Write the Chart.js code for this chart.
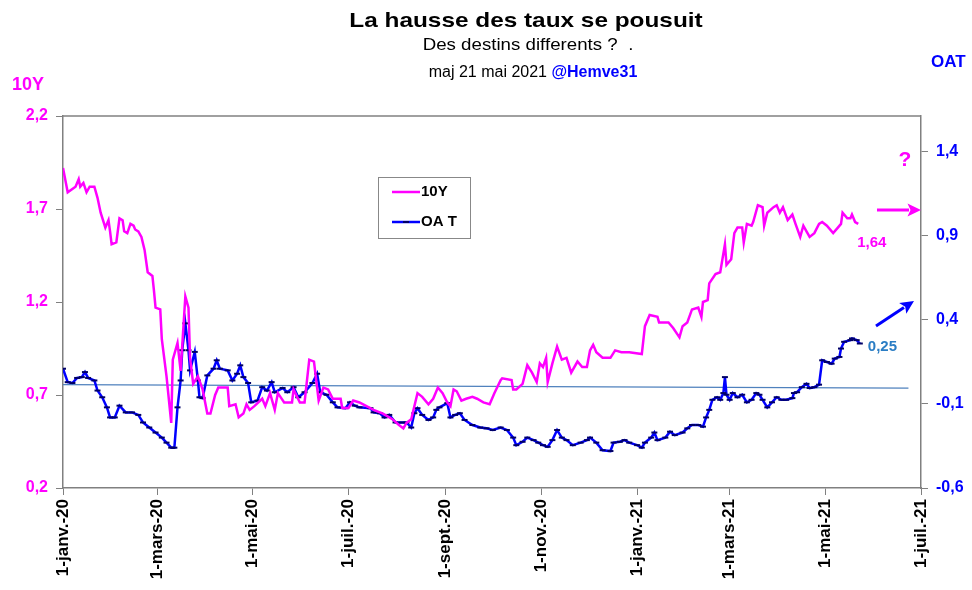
<!DOCTYPE html>
<html lang="fr">
<head>
<meta charset="utf-8">
<title>La hausse des taux se pousuit</title>
<script src="https://cdn.jsdelivr.net/npm/chart.js@4.4.0/dist/chart.umd.min.js"></script>
<style>
    html, body { margin: 0; padding: 0; background: #fff; }
    #wrap { position: relative; width: 972px; height: 590px; }
</style>
</head>
<body>
<div id="wrap"><canvas id="chart" width="972" height="590"></canvas></div>
<script>
/* ==========================
   DONNÉES (jours depuis le 1-janv.-20)
========================== */
const tenYDays = [
    0, 3, 8, 10, 11, 13, 15, 17, 20, 22,
    24, 27, 29, 30, 31, 34, 36, 38, 39, 41,
    43, 45, 46, 48, 50, 52, 54, 57, 58, 59,
    62, 63, 66, 69, 70, 73, 75, 78, 80, 81,
    83, 86, 89, 92, 94, 97, 99, 105, 106, 110,
    112, 115, 117, 119, 122, 127, 129, 132, 135, 137,
    141, 146, 147, 151, 154, 157, 160, 163, 166, 169,
    172, 177, 178, 182, 185, 189, 198, 204, 210, 214,
    217, 219, 222, 226, 229, 233, 236, 239, 242, 245,
    247, 249, 251, 254, 257, 261, 264, 268, 272, 275,
    279, 280, 286, 287, 289, 293, 296, 299, 302, 304,
    306, 308, 309, 312, 315, 318, 321, 324, 328, 331,
    334, 336, 338, 340, 344, 349, 352, 356, 361, 369,
    371, 374, 379, 380, 386, 389, 393, 395, 398, 401,
    405, 407, 408, 411, 412, 416, 419, 420, 422, 423,
    426, 428, 430, 433, 434, 436, 439, 440, 443, 446,
    447, 449, 453, 455, 457, 459, 462, 465, 467, 470,
    472, 474, 476, 479, 482, 484, 487, 491, 494, 496,
    497, 500, 502, 503, 505, 507
];
const tenYVals = [
    1.92, 1.79, 1.82, 1.86, 1.82, 1.84, 1.79, 1.82, 1.82, 1.76,
    1.68, 1.60, 1.64, 1.58, 1.51, 1.52, 1.65, 1.64, 1.58, 1.57,
    1.62, 1.61, 1.59, 1.58, 1.55, 1.48, 1.36, 1.34, 1.26, 1.17,
    1.16, 1.00, 0.80, 0.55, 0.89, 0.98, 0.83, 1.23, 1.17, 0.90,
    0.76, 0.80, 0.73, 0.60, 0.60, 0.70, 0.74, 0.74, 0.64, 0.65,
    0.58, 0.60, 0.65, 0.62, 0.64, 0.68, 0.64, 0.71, 0.62, 0.71,
    0.66, 0.66, 0.73, 0.66, 0.66, 0.89, 0.88, 0.67, 0.74, 0.73,
    0.68, 0.68, 0.63, 0.63, 0.67, 0.66, 0.62, 0.60, 0.57, 0.54,
    0.52, 0.55, 0.57, 0.71, 0.69, 0.65, 0.68, 0.74, 0.71, 0.66,
    0.64, 0.73, 0.72, 0.67, 0.68, 0.69, 0.68, 0.66, 0.65, 0.71,
    0.78, 0.79, 0.78, 0.73, 0.73, 0.76, 0.86, 0.82, 0.77, 0.87,
    0.85, 0.90, 0.77, 0.87, 0.96, 0.89, 0.90, 0.82, 0.88, 0.85,
    0.85, 0.94, 0.97, 0.93, 0.90, 0.90, 0.94, 0.93, 0.93, 0.92,
    1.07, 1.13, 1.12, 1.09, 1.09, 1.06, 1.01, 1.07, 1.09, 1.16,
    1.17, 1.12, 1.20, 1.21, 1.30, 1.35, 1.36, 1.41, 1.51, 1.40,
    1.43, 1.57, 1.60, 1.60, 1.52, 1.62, 1.61, 1.63, 1.72, 1.71,
    1.61, 1.68, 1.71, 1.72, 1.68, 1.71, 1.64, 1.67, 1.62, 1.55,
    1.61, 1.58, 1.55, 1.57, 1.62, 1.63, 1.61, 1.57, 1.60, 1.62,
    1.68, 1.65, 1.65, 1.67, 1.63, 1.62
];

const oatDays = [
    0, 3, 6, 9, 12, 14, 16, 20, 22, 25,
    28, 30, 33, 36, 40, 44, 48, 51, 55, 59,
    63, 66, 69, 71, 73, 75, 76, 78, 80, 81,
    84, 86, 87, 89, 92, 96, 98, 100, 105, 108,
    111, 113, 115, 118, 120, 124, 127, 130, 133, 135,
    140, 143, 147, 150, 154, 159, 162, 164, 168, 172,
    175, 180, 183, 186, 189, 196, 198, 202, 205, 208,
    212, 216, 219, 222, 224, 226, 229, 233, 236, 238,
    240, 245, 247, 250, 253, 256, 261, 266, 270, 274,
    279, 283, 287, 289, 293, 296, 300, 303, 306, 309,
    312, 315, 318, 321, 325, 330, 334, 336, 340, 344,
    349, 351, 355, 358, 361, 366, 369, 371, 375, 377,
    379, 384, 387, 390, 395, 398, 401, 405, 408, 410,
    412, 414, 417, 419, 421, 422, 423, 425, 427, 430,
    433, 436, 439, 442, 444, 446, 449, 452, 455, 458,
    461, 465, 466, 468, 471, 474, 476, 479, 482, 484,
    487, 490, 492, 495, 496, 498, 502, 503, 506, 508
];
const oatVals = [
    0.11, 0.03, 0.025, 0.055, 0.06, 0.09, 0.055, 0.04, -0.02, -0.06,
    -0.12, -0.18, -0.18, -0.11, -0.15, -0.15, -0.165, -0.21, -0.24, -0.27,
    -0.30, -0.33, -0.36, -0.36, -0.12, 0.04, 0.22, 0.38, 0.22, 0.10,
    0.21, 0.04, -0.06, -0.065, 0.07, 0.11, 0.16, 0.11, 0.10, 0.04,
    0.08, 0.13, 0.06, 0.025, -0.09, -0.08, 0.00, -0.02, 0.03, -0.03,
    -0.005, -0.03, 0.00, -0.06, -0.03, 0.025, 0.08, -0.03, -0.045, -0.09,
    -0.12, -0.125, -0.09, -0.11, -0.12, -0.125, -0.15, -0.155, -0.18, -0.165,
    -0.21, -0.21, -0.21, -0.24, -0.155, -0.125, -0.165, -0.195, -0.18, -0.135,
    -0.12, -0.095, -0.18, -0.165, -0.155, -0.195, -0.225, -0.24, -0.245, -0.255,
    -0.24, -0.255, -0.30, -0.345, -0.325, -0.30, -0.315, -0.33, -0.345, -0.355,
    -0.315, -0.255, -0.30, -0.315, -0.345, -0.33, -0.315, -0.30, -0.33, -0.375,
    -0.38, -0.33, -0.325, -0.315, -0.33, -0.345, -0.36, -0.33, -0.30, -0.27,
    -0.315, -0.30, -0.265, -0.285, -0.27, -0.245, -0.225, -0.225, -0.235, -0.18,
    -0.135, -0.075, -0.06, -0.075, -0.035, 0.06, -0.045, -0.075, -0.035, -0.06,
    -0.045, -0.09, -0.075, -0.035, -0.045, -0.075, -0.12, -0.09, -0.06, -0.075,
    -0.075, -0.065, -0.035, -0.03, 0.00, 0.02, -0.005, 0.00, 0.015, 0.16,
    0.15, 0.14, 0.17, 0.18, 0.23, 0.27, 0.28, 0.29, 0.28, 0.26
];

// droite de référence (axe OAT)
const refLineDays = [0, 539];
const refLineVals = [0.015, -0.005];

const monthTickDays = [0, 60, 121, 182, 244, 305, 366, 425, 486, 547];
const monthTickLabels = ["1-janv.-20", "1-mars-20", "1-mai-20", "1-juil.-20", "1-sept.-20",
    "1-nov.-20", "1-janv.-21", "1-mars-21", "1-mai-21", "1-juil.-21"];
const leftTicks = [0.2, 0.7, 1.2, 1.7, 2.2];
const rightTicks = [-0.6, -0.1, 0.4, 0.9, 1.4];

const lastTenYLabel = "1,64";
const lastOatLabel = "0,25";

/* ==========================
   STYLES
========================== */
const FONT = "'Liberation Sans', Arial, sans-serif";
const MAGENTA = "#ff00ff";
const BLUE = "#0000ff";
const AXIS_GRAY = "#808080";

Chart.defaults.font.family = FONT;

function pts(days, vals) {
    return days.map((d, i) => ({ x: d, y: vals[i] }));
}

function fr(v) {
    return v.toFixed(1).replace(".", ",");
}

// texte centré, étiré horizontalement (police du titre plus large)
function stretchedText(ctx, text, cx, baseline, font, stretch, color) {
    ctx.save();
    ctx.font = font;
    ctx.fillStyle = color;
    ctx.textAlign = "center";
    ctx.textBaseline = "alphabetic";
    ctx.translate(cx, baseline);
    ctx.scale(stretch, 1);
    ctx.fillText(text, 0, 0);
    ctx.restore();
}

function arrow(ctx, x1, y1, x2, y2, color, head) {
    const a = Math.atan2(y2 - y1, x2 - x1);
    ctx.save();
    ctx.strokeStyle = color;
    ctx.fillStyle = color;
    ctx.lineWidth = 3;
    ctx.beginPath();
    ctx.moveTo(x1, y1);
    ctx.lineTo(x2 - Math.cos(a) * head * 0.8, y2 - Math.sin(a) * head * 0.8);
    ctx.stroke();
    ctx.beginPath();
    ctx.moveTo(x2, y2);
    ctx.lineTo(x2 - head * Math.cos(a - 0.45), y2 - head * Math.sin(a - 0.45));
    ctx.lineTo(x2 - head * 0.7 * Math.cos(a), y2 - head * 0.7 * Math.sin(a));
    ctx.lineTo(x2 - head * Math.cos(a + 0.45), y2 - head * Math.sin(a + 0.45));
    ctx.closePath();
    ctx.fill();
    ctx.restore();
}

/* ==========================
   DÉCOR : titres, légende, flèches
========================== */
const decorPlugin = {
    id: "decor",
    afterDraw(chart) {
        const ctx = chart.ctx;
        const area = chart.chartArea;
        const sx = chart.scales.x, sy = chart.scales.y, sy1 = chart.scales.y1;

        ctx.save();
        // bord supérieur
        ctx.strokeStyle = AXIS_GRAY;
        ctx.lineWidth = 1.5;
        ctx.beginPath();
        ctx.moveTo(area.left, area.top);
        ctx.lineTo(area.right, area.top);
        ctx.stroke();

        // titres
        stretchedText(ctx, "La hausse des taux se pousuit", 526, 27, "bold 21px " + FONT, 1.16, "#000");
        stretchedText(ctx, "Des destins differents ?  .", 528, 50, "17px " + FONT, 1.1, "#000");

        ctx.textAlign = "left";
        ctx.textBaseline = "alphabetic";
        ctx.font = "16px " + FONT;
        const part1 = "maj 21 mai 2021 ";
        const w1 = ctx.measureText(part1).width;
        ctx.font = "bold 16px " + FONT;
        const w2 = ctx.measureText("@Hemve31").width;
        const x0 = 533 - (w1 + w2) / 2;
        ctx.font = "16px " + FONT;
        ctx.fillStyle = "#000";
        ctx.fillText(part1, x0, 77);
        ctx.font = "bold 16px " + FONT;
        ctx.fillStyle = BLUE;
        ctx.fillText("@Hemve31", x0 + w1, 77);

        // titres des axes
        ctx.textBaseline = "middle";
        ctx.font = "bold 18px " + FONT;
        ctx.fillStyle = MAGENTA;
        ctx.fillText("10Y", 12, 85);
        ctx.font = "bold 17px " + FONT;
        ctx.fillStyle = BLUE;
        ctx.fillText("OAT", 931, 62);

        // légende
        ctx.fillStyle = "#fff";
        ctx.fillRect(378, 177, 92, 61);
        ctx.strokeStyle = "#888";
        ctx.lineWidth = 1;
        ctx.strokeRect(378.5, 177.5, 92, 61);
        ctx.lineWidth = 2.5;
        ctx.strokeStyle = MAGENTA;
        ctx.beginPath(); ctx.moveTo(392, 192); ctx.lineTo(420, 192); ctx.stroke();
        ctx.strokeStyle = BLUE;
        ctx.beginPath(); ctx.moveTo(392, 222); ctx.lineTo(420, 222); ctx.stroke();
        ctx.strokeStyle = "#000066";
        ctx.lineWidth = 2;
        ctx.beginPath(); ctx.moveTo(403, 222); ctx.lineTo(409, 222); ctx.stroke();
        ctx.fillStyle = "#000";
        ctx.font = "bold 15px " + FONT;
        ctx.fillText("10Y", 421, 192);
        ctx.fillText("OA T", 421, 222);

        // annotations de fin de série
        const lx = sx.getPixelForValue(tenYDays[tenYDays.length - 1]);
        const ly = sy.getPixelForValue(tenYVals[tenYVals.length - 1]);
        ctx.font = "bold 15px " + FONT;
        ctx.fillStyle = MAGENTA;
        ctx.fillText(lastTenYLabel, lx - 1, ly + 19);

        const ox = sx.getPixelForValue(oatDays[oatDays.length - 1]);
        const oy = sy1.getPixelForValue(oatVals[oatVals.length - 1]);
        ctx.fillStyle = "#2a7dc4";
        ctx.fillText(lastOatLabel, ox + 8, oy + 3);

        ctx.fillStyle = MAGENTA;
        ctx.font = "bold 21px " + FONT;
        ctx.textAlign = "center";
        ctx.fillText("?", 905, 160);

        arrow(ctx, 877, 210, 921, 210, MAGENTA, 15);
        arrow(ctx, 876, 326, 914, 301, BLUE, 15);

        ctx.restore();
    }
};

/* ==========================
   GRAPHIQUE
========================== */
const ctx = document.getElementById("chart");

new Chart(ctx, {
    type: "line",
    data: {
        datasets: [
            {
                label: "10Y",
                data: pts(tenYDays, tenYVals),
                yAxisID: "y",
                borderColor: MAGENTA,
                borderWidth: 2.5,
                pointRadius: 0,
                tension: 0
            },
            {
                label: "OAT",
                data: pts(oatDays, oatVals),
                yAxisID: "y1",
                borderColor: BLUE,
                borderWidth: 2.5,
                pointStyle: "line",
                pointRadius: 3,
                pointBorderColor: "#000066",
                pointBorderWidth: 2,
                tension: 0
            },
            {
                label: "ref",
                data: pts(refLineDays, refLineVals),
                yAxisID: "y1",
                borderColor: "#4f81bd",
                borderWidth: 1.2,
                pointRadius: 0
            }
        ]
    },
    options: {
        responsive: false,
        animation: false,
        layout: { padding: { top: 116, left: 0, right: 0, bottom: 0 } },
        plugins: {
            legend: { display: false },
            tooltip: { enabled: false },
            title: { display: false }
        },
        scales: {
            x: {
                type: "linear",
                min: 0,
                max: 547,
                afterBuildTicks: (s) => { s.ticks = monthTickDays.map(v => ({ value: v })); },
                afterFit: (s) => { s.height = 102; },
                ticks: {
                    autoSkip: false,
                    maxRotation: 90,
                    minRotation: 90,
                    color: "#000",
                    padding: 4,
                    font: { size: 17, weight: "bold" },
                    callback: (v, i) => monthTickLabels[i]
                },
                grid: { drawOnChartArea: false, color: AXIS_GRAY, tickLength: 7 },
                border: { color: AXIS_GRAY, width: 1.5 }
            },
            y: {
                position: "left",
                min: 0.2,
                max: 2.2,
                afterBuildTicks: (s) => { s.ticks = leftTicks.map(v => ({ value: v })); },
                afterFit: (s) => { s.width = 63; },
                ticks: {
                    color: MAGENTA,
                    padding: 8,
                    font: { size: 16, weight: "bold" },
                    callback: (v) => fr(v)
                },
                grid: { drawOnChartArea: false, color: AXIS_GRAY, tickLength: 7 },
                border: { color: AXIS_GRAY, width: 1.5 }
            },
            y1: {
                position: "right",
                min: -0.6,
                max: 1.614,
                afterBuildTicks: (s) => { s.ticks = rightTicks.map(v => ({ value: v })); },
                afterFit: (s) => { s.width = 51; },
                ticks: {
                    color: BLUE,
                    padding: 8,
                    font: { size: 16, weight: "bold" },
                    callback: (v) => fr(v)
                },
                grid: { drawOnChartArea: false, color: AXIS_GRAY, tickLength: 7 },
                border: { color: AXIS_GRAY, width: 1.5 }
            }
        }
    },
    plugins: [decorPlugin]
});
</script>
</body>
</html>
